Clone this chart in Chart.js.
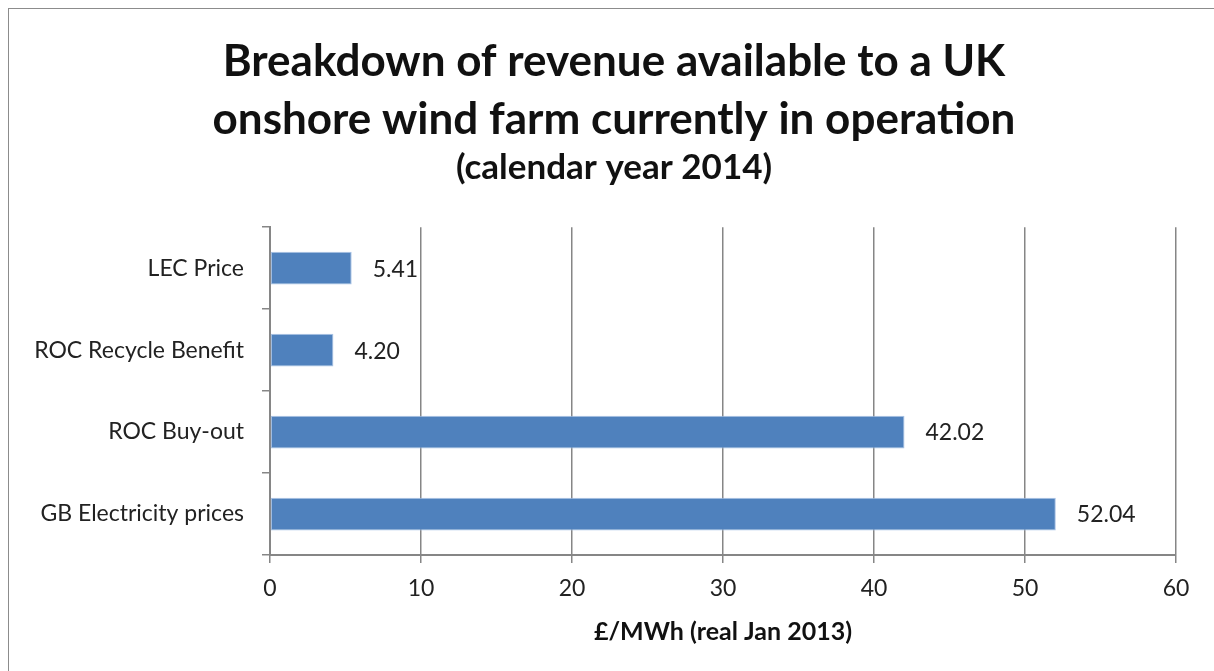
<!DOCTYPE html>
<html>
<head>
<meta charset="utf-8">
<script src="https://cdn.jsdelivr.net/npm/chart.js@4.4.1/dist/chart.umd.min.js"></script>
<style>
  body { margin: 0; background: #fff; overflow: hidden; }
  #box { position: absolute; left: 8px; top: 8px; width: 1210px; height: 670px; border-left: 1px solid #8c8c8c; border-top: 1px solid #8c8c8c; }
</style>
</head>
<body>
<div id="box"><canvas id="myChart" width="1196" height="654"></canvas></div>
<script>
// data
const categories = ["LEC Price", "ROC Recycle Benefit", "ROC Buy-out", "GB Electricity prices"];
const revenue = [5.41, 4.20, 42.02, 52.04];

const FONT = "Lato, 'Open Sans', sans-serif";

// writes the value next to each bar
const valueLabels = {
  id: "valueLabels",
  afterDatasetsDraw(chart) {
    const ctx = chart.ctx;
    const meta = chart.getDatasetMeta(0);
    ctx.save();
    ctx.font = "23px " + FONT;
    ctx.fillStyle = "#222";
    ctx.textBaseline = "middle";
    ctx.textAlign = "left";
    meta.data.forEach((bar, i) => {
      ctx.fillText(revenue[i].toFixed(2), bar.x + 21, bar.y + 1);
    });
    ctx.restore();
  }
};

// long category names run into the left padding, so widen the label clip area
const unclipLabels = {
  id: "unclipLabels",
  afterLayout(chart) { chart.scales.y.left = 0; }
};

var ctx = document.getElementById("myChart").getContext("2d");

var myChart = new Chart(ctx, {
  type: "bar",
  data: {
    labels: categories,
    datasets: [{
      data: revenue,
      backgroundColor: "#4f81bd",
      borderColor: "#a9c3e6",
      borderWidth: 1,
      borderSkipped: false,
      categoryPercentage: 1,
      barPercentage: 0.4
    }]
  },
  plugins: [valueLabels, unclipLabels],
  options: {
    responsive: false,
    animation: false,
    indexAxis: "y",
    layout: { padding: { left: 43, right: 29, top: 0, bottom: 0 } },
    plugins: {
      legend: { display: false },
      tooltip: { enabled: false },
      title: {
        display: true,
        text: ["Breakdown of revenue available to a UK", "onshore wind farm currently in operation"],
        color: "#111",
        font: { family: FONT, size: 44, weight: "bold", lineHeight: 1.32 },
        padding: { top: 24, bottom: 0 }
      },
      subtitle: {
        display: true,
        text: "(calendar year 2014)",
        color: "#111",
        font: { family: FONT, size: 35, weight: "bold", lineHeight: 1.0 },
        padding: { top: 1, bottom: 42 }
      }
    },
    scales: {
      x: {
        min: 0,
        max: 60,
        ticks: { stepSize: 10, color: "#222", font: { family: FONT, size: 23 }, padding: 12 },
        grid: { color: "#868686", lineWidth: 1.5, tickLength: 8 },
        border: { color: "#868686", width: 2 },
        title: {
          display: true,
          text: "£/MWh (real Jan 2013)",
          color: "#111",
          font: { family: FONT, size: 25, weight: "bold" },
          padding: { top: 8, bottom: 16 }
        },
        afterFit(scale) { scale.height = 108; }
      },
      y: {
        ticks: { color: "#222", font: { family: FONT, size: 23 }, padding: 18 },
        grid: { drawOnChartArea: false, offset: true, color: "#868686", lineWidth: 1.5, tickLength: 8 },
        border: { color: "#868686", width: 2 },
        afterFit(scale) { scale.width = 218; }
      }
    }
  }
});
</script>
</body>
</html>
